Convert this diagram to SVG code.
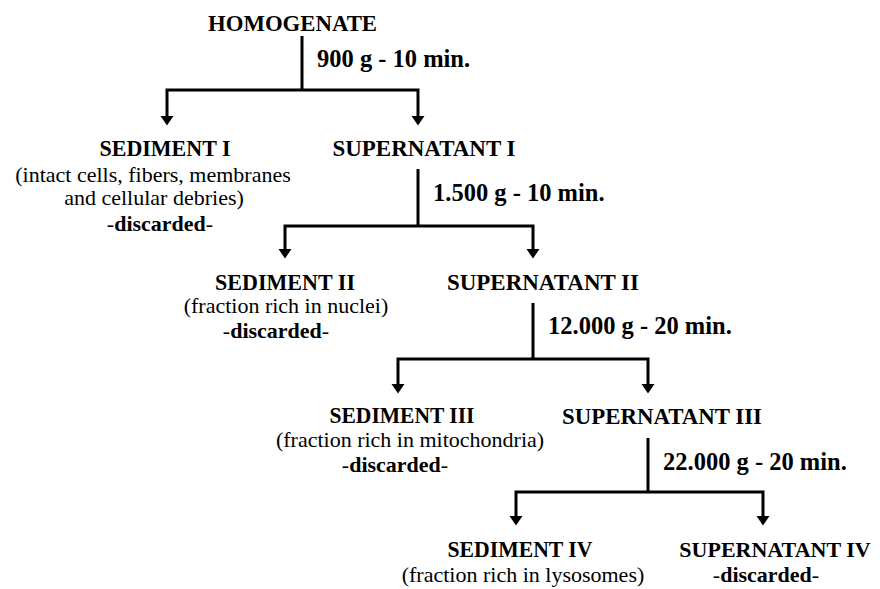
<svg xmlns="http://www.w3.org/2000/svg" width="880" height="589" viewBox="0 0 880 589">
<style>
text{font-family:"Liberation Serif","Times New Roman",serif;fill:#000}
.t{font-size:24px;font-weight:700;text-anchor:middle}
.r{font-size:22px;font-weight:400;text-anchor:middle}
.d{font-size:22px;font-weight:700;text-anchor:middle}
.d tspan.n{font-weight:400}
.s{font-size:24.5px;font-weight:700;text-anchor:start}
.c{fill:none;stroke:#000;stroke-width:3;stroke-linejoin:miter;marker-end:url(#ah)}
.v{fill:none;stroke:#000;stroke-width:3}
</style>
<defs>
<marker id="ah" markerUnits="userSpaceOnUse" markerWidth="12" markerHeight="14" refX="0" refY="7" orient="auto" viewBox="0 0 10 14">
<path d="M0,0.5 L9.5,7 L0,13.5 z" fill="#000"/>
</marker>
</defs>
<rect width="880" height="589" fill="#fff"/>
<g id="connectors">
<path class="v" d="M302,36 V90"/>
<path class="c" d="M302,90 H167 V116"/>
<path class="c" d="M302,90 H418 V116"/>
<path class="v" d="M418,169 V226"/>
<path class="c" d="M418,226 H285 V249"/>
<path class="c" d="M418,226 H533 V249"/>
<path class="v" d="M533,303 V359"/>
<path class="c" d="M533,359 H398 V384"/>
<path class="c" d="M533,359 H648 V384"/>
<path class="v" d="M648,438 V492"/>
<path class="c" d="M648,492 H516 V516"/>
<path class="c" d="M648,492 H763 V516"/>
</g>
<g id="homogenate"><text class="t" x="292.5" y="31" textLength="169" lengthAdjust="spacingAndGlyphs">HOMOGENATE</text></g>
<g id="spin1"><text class="s" x="317" y="67">900 g - 10 min.</text></g>
<g id="sediment1">
<text class="t" x="165" y="156" textLength="131" lengthAdjust="spacingAndGlyphs">SEDIMENT I</text>
<text class="r" x="153" y="182">(intact cells, fibers, membranes</text>
<text class="r" x="154" y="205">and cellular debries)</text>
<text class="d" x="160" y="231"><tspan class="n">-</tspan>discarded<tspan class="n">-</tspan></text>
</g>
<g id="supernatant1"><text class="t" x="424" y="156" textLength="183" lengthAdjust="spacingAndGlyphs">SUPERNATANT I</text></g>
<g id="spin2"><text class="s" x="433" y="201">1.500 g - 10 min.</text></g>
<g id="sediment2">
<text class="t" x="285" y="290" textLength="140" lengthAdjust="spacingAndGlyphs">SEDIMENT II</text>
<text class="r" x="286" y="313">(fraction rich in nuclei)</text>
<text class="d" x="276" y="338"><tspan class="n">-</tspan>discarded<tspan class="n">-</tspan></text>
</g>
<g id="supernatant2"><text class="t" x="543" y="290" textLength="192" lengthAdjust="spacingAndGlyphs">SUPERNATANT II</text></g>
<g id="spin3"><text class="s" x="548" y="334">12.000 g - 20 min.</text></g>
<g id="sediment3">
<text class="t" x="402" y="423" textLength="145" lengthAdjust="spacingAndGlyphs">SEDIMENT III</text>
<text class="r" x="410" y="447">(fraction rich in mitochondria)</text>
<text class="d" x="395" y="472"><tspan class="n">-</tspan>discarded<tspan class="n">-</tspan></text>
</g>
<g id="supernatant3"><text class="t" x="662" y="424" textLength="200" lengthAdjust="spacingAndGlyphs">SUPERNATANT III</text></g>
<g id="spin4"><text class="s" x="663" y="470">22.000 g - 20 min.</text></g>
<g id="sediment4">
<text class="t" x="520" y="557" textLength="145" lengthAdjust="spacingAndGlyphs">SEDIMENT IV</text>
<text class="r" x="523" y="582">(fraction rich in lysosomes)</text>
</g>
<g id="supernatant4">
<text class="t" x="775" y="557" style="font-size:22px">SUPERNATANT IV</text>
<text class="d" x="766" y="582"><tspan class="n">-</tspan>discarded<tspan class="n">-</tspan></text>
</g>
</svg>
